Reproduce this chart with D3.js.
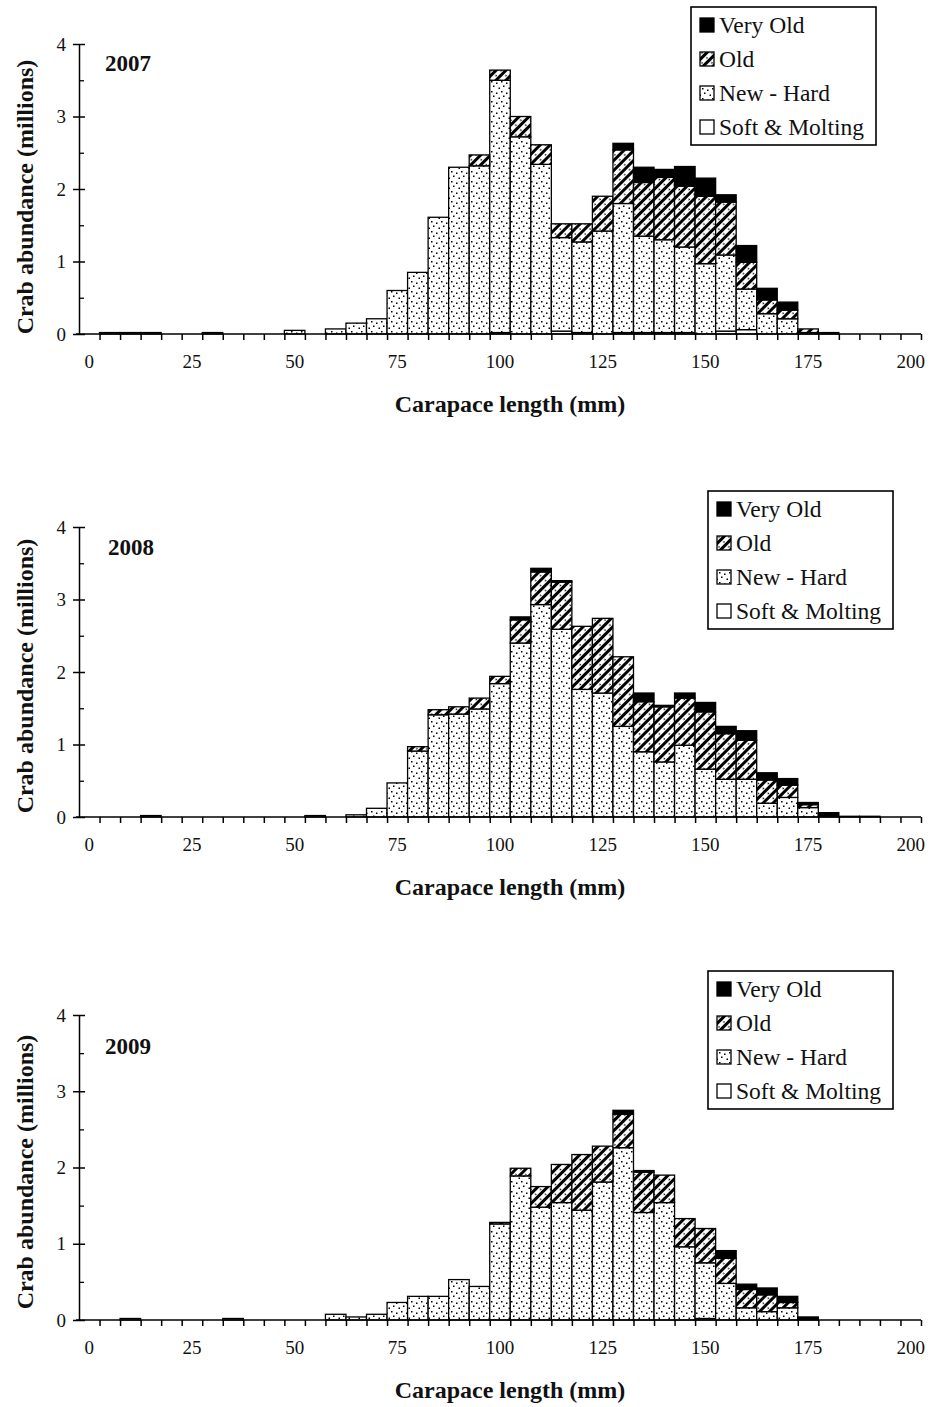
<!DOCTYPE html>
<html>
<head>
<meta charset="utf-8">
<script src="https://cdn.jsdelivr.net/npm/d3@7"></script>
<style>
  body { margin: 0; background: #fff; }
  text { font-family: "Liberation Serif", "Times New Roman", serif; fill: #111; }
</style>
</head>
<body>
<div id="chart"></div>
<script>
// size classes (mm), one bar per class
var bins = [0, 5, 10, 15, 20, 25, 30, 35, 40, 45,
            50, 55, 60, 65, 70, 75, 80, 85, 90, 95,
            100, 105, 110, 115, 120, 125, 130, 135, 140, 145,
            150, 155, 160, 165, 170, 175, 180, 185, 190, 195, 200];
var labelBins = [0, 25, 50, 75, 100, 125, 150, 175, 200];
var yTicks = [0, 1, 2, 3, 4];
var yMinor = [0.5, 1.5, 2.5, 3.5];

var stages = ["soft", "newHard", "old", "veryOld"];
var legendKeys = ["veryOld", "old", "newHard", "soft"];
var legendLabels = ["Very Old", "Old", "New - Hard", "Soft & Molting"];

// 2007 (millions of crabs per 5 mm class)
var soft2007 = [0, 0, 0, 0, 0, 0, 0, 0, 0, 0,
                0, 0, 0, 0, 0, 0, 0, 0, 0, 0,
                0.02, 0, 0, 0.04, 0.02, 0, 0.02, 0.02, 0.02, 0.02,
                0, 0.04, 0.06, 0, 0, 0, 0, 0, 0, 0, 0];
var newHard2007 = [0, 0.02, 0.02, 0.02, 0, 0, 0.02, 0, 0, 0,
                   0.05, 0, 0.07, 0.15, 0.21, 0.60, 0.85, 1.61, 2.30, 2.32,
                   3.48, 2.72, 2.34, 1.29, 1.25, 1.42, 1.78, 1.33, 1.28, 1.18,
                   0.97, 1.05, 0.56, 0.28, 0.21, 0.02, 0, 0, 0, 0, 0];
var old2007 = [0, 0, 0, 0, 0, 0, 0, 0, 0, 0,
               0, 0, 0, 0, 0, 0, 0, 0, 0, 0.15,
               0.14, 0.28, 0.27, 0.19, 0.25, 0.48, 0.74, 0.74, 0.86, 0.84,
               0.93, 0.73, 0.37, 0.19, 0.12, 0.05, 0, 0, 0, 0, 0];
var veryOld2007 = [0, 0, 0, 0, 0, 0, 0, 0, 0, 0,
                   0, 0, 0, 0, 0, 0, 0, 0, 0, 0,
                   0, 0, 0, 0, 0, 0, 0.09, 0.21, 0.11, 0.27,
                   0.25, 0.10, 0.23, 0.16, 0.11, 0, 0.02, 0, 0, 0, 0];

// 2008
var soft2008 = [0, 0, 0, 0, 0, 0, 0, 0, 0, 0,
                0, 0, 0, 0, 0, 0, 0, 0, 0, 0,
                0, 0, 0, 0, 0, 0, 0, 0, 0, 0,
                0, 0, 0, 0, 0, 0, 0, 0, 0, 0, 0];
var newHard2008 = [0, 0, 0, 0.02, 0, 0, 0, 0, 0, 0,
                   0, 0.02, 0, 0.03, 0.12, 0.47, 0.91, 1.41, 1.42, 1.49,
                   1.84, 2.40, 2.93, 2.59, 1.76, 1.71, 1.25, 0.90, 0.76, 0.99,
                   0.66, 0.52, 0.52, 0.19, 0.27, 0.13, 0, 0, 0, 0, 0];
var old2008 = [0, 0, 0, 0, 0, 0, 0, 0, 0, 0,
               0, 0, 0, 0, 0, 0, 0.06, 0.07, 0.10, 0.15,
               0.10, 0.32, 0.45, 0.65, 0.87, 1.03, 0.96, 0.69, 0.76, 0.65,
               0.79, 0.63, 0.54, 0.32, 0.17, 0.04, 0, 0, 0, 0, 0];
var veryOld2008 = [0, 0, 0, 0, 0, 0, 0, 0, 0, 0,
                   0, 0, 0, 0, 0, 0, 0, 0, 0, 0,
                   0, 0.04, 0.05, 0.02, 0, 0, 0, 0.12, 0.02, 0.07,
                   0.13, 0.10, 0.13, 0.10, 0.09, 0.03, 0.06, 0.01, 0.01, 0, 0];

// 2009
var soft2009 = [0, 0, 0, 0, 0, 0, 0, 0, 0, 0,
                0, 0, 0, 0, 0, 0, 0, 0, 0, 0,
                0, 0, 0, 0, 0, 0, 0, 0, 0, 0,
                0.02, 0, 0, 0, 0, 0, 0, 0, 0, 0, 0];
var newHard2009 = [0, 0, 0.02, 0, 0, 0, 0, 0.02, 0, 0,
                   0, 0, 0.075, 0.04, 0.075, 0.23, 0.31, 0.31, 0.53, 0.44,
                   1.26, 1.89, 1.48, 1.54, 1.44, 1.81, 2.26, 1.41, 1.54, 0.96,
                   0.73, 0.48, 0.16, 0.11, 0.16, 0, 0, 0, 0, 0, 0];
var old2009 = [0, 0, 0, 0, 0, 0, 0, 0, 0, 0,
               0, 0, 0, 0, 0, 0, 0, 0, 0, 0,
               0.02, 0.10, 0.27, 0.50, 0.73, 0.47, 0.44, 0.53, 0.36, 0.37,
               0.45, 0.33, 0.24, 0.22, 0.07, 0, 0, 0, 0, 0, 0];
var veryOld2009 = [0, 0, 0, 0, 0, 0, 0, 0, 0, 0,
                   0, 0, 0, 0, 0, 0, 0, 0, 0, 0,
                   0, 0, 0, 0, 0, 0, 0.05, 0.02, 0, 0,
                   0, 0.10, 0.07, 0.09, 0.08, 0.04, 0, 0, 0, 0, 0];

var panels = [
  { year: "2007", soft: soft2007, newHard: newHard2007, old: old2007, veryOld: veryOld2007,
    top: 44, bottom: 334, yearX: 105, yearY: 71, legX: 691, legY: 7, titleY: 197 },
  { year: "2008", soft: soft2008, newHard: newHard2008, old: old2008, veryOld: veryOld2008,
    top: 527, bottom: 817, yearX: 108, yearY: 555, legX: 708, legY: 491, titleY: 676 },
  { year: "2009", soft: soft2009, newHard: newHard2009, old: old2009, veryOld: veryOld2009,
    top: 1015, bottom: 1320, yearX: 105, yearY: 1054, legX: 708, legY: 971, titleY: 1172 }
];

var width = 930, height = 1407;
var left = 79, right = 921;

var svg = d3.select("#chart").append("svg")
  .attr("width", width)
  .attr("height", height);

var defs = svg.append("defs");

// dotted fill for new-hard shell
var dots = defs.append("pattern")
  .attr("id", "newHard")
  .attr("patternUnits", "userSpaceOnUse")
  .attr("width", 10).attr("height", 10);
dots.append("rect").attr("width", 10).attr("height", 10).attr("fill", "#fff");
[[1, 1], [6, 2.5], [3, 5.5], [8.5, 7.5]].forEach(function (p) {
  dots.append("rect").attr("x", p[0]).attr("y", p[1])
    .attr("width", 1.5).attr("height", 1.5).attr("fill", "#000");
});

// diagonal hatch for old shell
var hatch = defs.append("pattern")
  .attr("id", "old")
  .attr("patternUnits", "userSpaceOnUse")
  .attr("width", 7).attr("height", 7)
  .attr("patternTransform", "rotate(45)");
hatch.append("rect").attr("width", 7).attr("height", 7).attr("fill", "#fff");
hatch.append("rect").attr("width", 3).attr("height", 7).attr("fill", "#000");
hatch.append("rect").attr("x", 4.6).attr("y", 3).attr("width", 1.4).attr("height", 1.4).attr("fill", "#000");

var fills = { soft: "#fff", newHard: "url(#newHard)", old: "url(#old)", veryOld: "#000" };

var x = d3.scaleBand().domain(bins).range([left, right]);
var xEdge = d3.scaleLinear().domain([0, bins.length]).range([left, right]);

panels.forEach(function (p) {
  var g = svg.append("g");
  var y = d3.scaleLinear().domain([0, 4]).range([p.bottom, p.top]);

  var rows = bins.map(function (b, i) {
    return { bin: b, soft: p.soft[i], newHard: p.newHard[i], old: p.old[i], veryOld: p.veryOld[i] };
  });
  var series = d3.stack().keys(stages)(rows);

  g.selectAll(".layer")
    .data(series)
    .join("g")
    .attr("class", "layer")
    .attr("fill", function (d) { return fills[d.key]; })
    .selectAll("rect")
    .data(function (d) { return d.filter(function (s) { return s[1] - s[0] > 0; }); })
    .join("rect")
    .attr("x", function (d) { return x(d.data.bin); })
    .attr("width", x.bandwidth())
    .attr("y", function (d) { return y(d[1]); })
    .attr("height", function (d) { return y(d[0]) - y(d[1]); })
    .attr("stroke", "#000")
    .attr("stroke-width", 1.3);

  // y axis, major ticks cross the line
  var yAxis = g.append("g")
    .attr("transform", "translate(" + left + ",0)")
    .call(d3.axisLeft(y).tickValues(yTicks).tickSize(6).tickSizeOuter(0).tickPadding(7).tickFormat(d3.format("d")));
  yAxis.selectAll(".tick line").attr("x1", 6);
  yAxis.selectAll("line, path").attr("stroke", "#000").attr("stroke-width", 1.5);
  yAxis.selectAll("text").style("font-size", "19px").style("font-family", "Liberation Serif");

  var yMin = g.append("g")
    .attr("transform", "translate(" + left + ",0)")
    .call(d3.axisRight(y).tickValues(yMinor).tickSize(5).tickFormat(""));
  yMin.select(".domain").remove();
  yMin.selectAll("line").attr("stroke-width", 1.3);

  // x axis: ticks between classes, labels every 25 mm
  var xAxis = g.append("g")
    .attr("transform", "translate(0," + p.bottom + ")")
    .call(d3.axisBottom(xEdge).tickValues(d3.range(1, bins.length + 1)).tickSize(6).tickSizeOuter(0).tickFormat(""));
  xAxis.select(".domain").attr("d", "M" + (left - 3) + ",0H" + right);
  xAxis.selectAll("line, path").attr("stroke", "#000").attr("stroke-width", 1.5);

  var xLab = g.append("g")
    .attr("transform", "translate(0," + p.bottom + ")")
    .call(d3.axisBottom(x).tickValues(labelBins).tickSize(0).tickPadding(21));
  xLab.select(".domain").remove();
  xLab.selectAll("text").style("font-size", "19px").style("font-family", "Liberation Serif");

  g.append("text")
    .attr("x", (left + right) / 2 + 10)
    .attr("y", p.bottom + 78)
    .attr("text-anchor", "middle")
    .style("font-size", "24px")
    .style("font-weight", "bold")
    .text("Carapace length (mm)");

  g.append("text")
    .attr("transform", "translate(25," + p.titleY + ") rotate(-90)")
    .attr("dy", "0.35em")
    .attr("text-anchor", "middle")
    .style("font-size", "24px")
    .style("font-weight", "bold")
    .text("Crab abundance (millions)");

  g.append("text")
    .attr("x", p.yearX)
    .attr("y", p.yearY)
    .style("font-size", "23px")
    .style("font-weight", "bold")
    .text(p.year);

  // legend
  var lg = g.append("g").attr("transform", "translate(" + p.legX + "," + p.legY + ")");
  lg.append("rect")
    .attr("width", 185).attr("height", 138)
    .attr("fill", "#fff").attr("stroke", "#000").attr("stroke-width", 1.6);
  legendKeys.forEach(function (k, i) {
    var cy = 18 + i * 34;
    lg.append("rect")
      .attr("x", 9).attr("y", cy - 7)
      .attr("width", 14).attr("height", 14)
      .attr("fill", fills[k]).attr("stroke", "#000").attr("stroke-width", 1.3);
    lg.append("text")
      .attr("x", 28).attr("y", cy + 7.5)
      .style("font-size", "23.5px")
      .text(legendLabels[i]);
  });
});
</script>
</body>
</html>
